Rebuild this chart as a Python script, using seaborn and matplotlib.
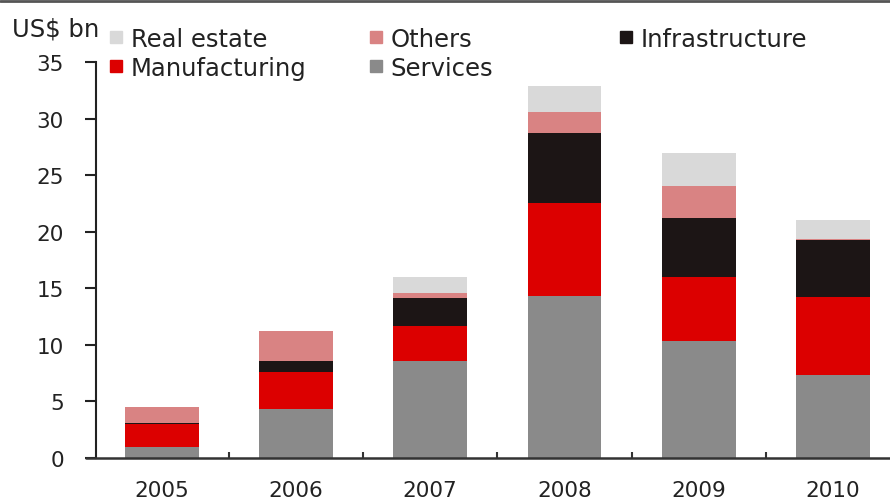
import matplotlib
matplotlib.use("Agg")
import matplotlib.pyplot as plt
from matplotlib.lines import Line2D
import numpy as np
import pandas as pd
import seaborn as sns

# FDI inflows by sector, US$ bn
years = ["2005", "2006", "2007", "2008", "2009", "2010"]
services = [1.0, 4.3, 8.6, 14.3, 10.3, 7.3]
manufacturing = [2.0, 3.3, 3.1, 8.2, 5.7, 6.9]
infrastructure = [0.1, 1.0, 2.4, 6.2, 5.2, 5.1]
others = [1.4, 2.6, 0.5, 1.9, 2.8, 0.1]
real_estate = [0.0, 0.0, 1.4, 2.3, 3.0, 1.6]

sectors = ["Services", "Manufacturing", "Infrastructure", "Others", "Real estate"]
values = [services, manufacturing, infrastructure, others, real_estate]
colors = {
    "Services": "#8a8a8a",
    "Manufacturing": "#dc0000",
    "Infrastructure": "#1c1515",
    "Others": "#d98383",
    "Real estate": "#d9d9d9",
}

df = pd.DataFrame({"year": years})
for name, vals in zip(sectors, values):
    df[name] = vals

sns.set_theme(style="white")
plt.rcParams["font.family"] = ["DejaVu Sans"]

fig = plt.figure(figsize=(8.9, 5.02), dpi=100)
ax = fig.add_axes([96 / 890, 43 / 502, 794 / 890, 396 / 502])

bottom = np.zeros(len(years))
for name in sectors:
    sns.barplot(data=df, x="year", y=name, order=years, color=colors[name],
                width=0.55, bottom=bottom, saturation=1, ax=ax,
                edgecolor="none", linewidth=0)
    bottom = bottom + df[name].to_numpy()

ax.set_xlim(-0.49, 5.425)
ax.set_ylim(0, 35)
ax.set_yticks(np.arange(0, 36, 5))
ax.set_xlabel("")
ax.set_ylabel("")

for side in ["top", "right", "bottom"]:
    ax.spines[side].set_visible(False)
ax.spines["left"].set_color("#222222")
ax.spines["left"].set_linewidth(1.5)

# x axis line, extended slightly left of the y axis
ax.axhline(0, xmin=-0.013, xmax=1, color="#333333", lw=1.8, clip_on=False, zorder=5)

ax.tick_params(axis="y", direction="out", length=8, width=1.5, color="#222222",
               pad=15, labelsize=15.5, labelcolor="#222222", left=True)
ax.tick_params(axis="x", which="major", length=0, pad=16, labelsize=15.5,
               labelcolor="#222222", bottom=True)
ax.set_xticks(np.arange(0.5, 5.0, 1.0), minor=True)
ax.tick_params(axis="x", which="minor", direction="in", length=4, width=1.5,
               color="#333333", bottom=True)

# legend: two columns on the left, one entry on the right
def handle(name):
    return Line2D([], [], marker="s", linestyle="none", markersize=8,
                  markerfacecolor=colors[name], markeredgecolor=colors[name])

legend_kw = dict(loc="upper left", frameon=False, fontsize=17.5, handlelength=0.6,
                 handletextpad=0.3, borderpad=0, borderaxespad=0)

leg_names = ["Real estate", "Manufacturing", "Others", "Services"]
leg1 = fig.legend([handle(n) for n in leg_names], leg_names, ncol=2,
                  bbox_to_anchor=(109 / 890, 1 - 28 / 502),
                  columnspacing=2.55, labelspacing=0.2, **legend_kw)
leg2 = fig.legend([handle("Infrastructure")], ["Infrastructure"],
                  bbox_to_anchor=(619 / 890, 1 - 28 / 502), **legend_kw)
for leg in (leg1, leg2):
    for t in leg.get_texts():
        t.set_color("#222222")

fig.text(12 / 890, 1 - 30 / 502, "US$ bn", fontsize=17.5, color="#222222",
         ha="left", va="center")

# thin frame line along the top edge
fig.add_artist(Line2D([0, 1], [1 - 2 / 502, 1 - 2 / 502], transform=fig.transFigure,
                      color="#555555", lw=2))

fig.savefig("out.png", dpi=100)
